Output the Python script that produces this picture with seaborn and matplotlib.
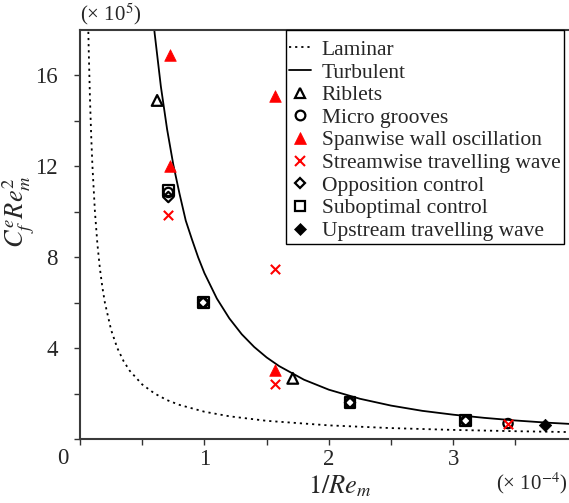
import matplotlib
matplotlib.use("Agg")
import matplotlib.pyplot as plt
from matplotlib.lines import Line2D
import seaborn as sns

# ---- data (x in units of 1e-4, y in units of 1e5) ----
laminar_x = [0.065, 0.07, 0.08, 0.09, 0.10, 0.12, 0.14, 0.16, 0.18, 0.20, 0.25, 0.30,
             0.35, 0.40, 0.50, 0.60, 0.70, 0.80, 1.00, 1.20, 1.50, 2.00, 2.50, 3.00,
             3.50, 3.95]
laminar_y = [18.46, 17.14, 15.0, 13.33, 12.0, 10.0, 8.57, 7.5, 6.67, 6.0, 4.8, 4.0,
             3.43, 3.0, 2.4, 2.0, 1.71, 1.5, 1.2, 1.0, 0.8, 0.6, 0.48, 0.40,
             0.343, 0.304]
turbulent_x = [0.59, 0.60, 0.65, 0.70, 0.75, 0.80, 0.85, 0.90, 0.95, 1.0, 1.1, 1.2, 1.3,
               1.4, 1.5, 1.6, 1.8, 2.0, 2.25, 2.5, 2.75, 3.0, 3.25, 3.5, 3.75, 3.95]
turbulent_y = [18.38, 17.85, 15.51, 13.63, 12.07, 10.79, 9.61, 8.78, 7.99, 7.30, 6.18,
               5.31, 4.61, 4.05, 3.59, 3.21, 2.61, 2.17, 1.77, 1.47, 1.24, 1.07, 0.93,
               0.815, 0.72, 0.66]

riblets_x = [0.62, 1.71]
riblets_y = [14.9, 2.67]
grooves_x = [0.71, 0.99, 2.17, 3.10, 3.44]
grooves_y = [10.85, 6.0, 1.6, 0.8, 0.68]
spanwise_x = [0.72, 0.72, 1.57, 1.57]
spanwise_y = [16.9, 12.0, 15.1, 3.05]
streamwise_x = [0.71, 1.57, 1.57, 3.44]
streamwise_y = [9.85, 7.5, 2.42, 0.67]
opposition_x = [0.71, 0.99, 2.17, 3.10]
opposition_y = [10.65, 6.0, 1.6, 0.8]
suboptimal_x = [0.71, 0.99, 2.17, 3.10]
suboptimal_y = [10.95, 6.02, 1.6, 0.8]
upstream_x = [3.74]
upstream_y = [0.6]

legend_labels = ["Laminar", "Turbulent", "Riblets", "Micro grooves",
                 "Spanwise wall oscillation", "Streamwise travelling wave",
                 "Opposition control", "Suboptimal control", "Upstream travelling wave"]

sns.set_style("ticks")
plt.rcParams["font.family"] = ["Liberation Serif", "DejaVu Serif"]
plt.rcParams["mathtext.fontset"] = "stix"

fig = plt.figure(figsize=(5.69, 5.03), dpi=100)
ax = fig.add_axes([80 / 569, 64 / 503, 489 / 569, 409 / 503])

sns.lineplot(x=laminar_x, y=laminar_y, ax=ax, color="k", linestyle=(0, (1.2, 2.2)), lw=1.3)
sns.lineplot(x=turbulent_x, y=turbulent_y, ax=ax, color="k", lw=1.3)

ec_lw = 1.6
sns.scatterplot(x=suboptimal_x, y=suboptimal_y, ax=ax, marker="s", s=60,
                color="k", facecolor="none", edgecolor="k", linewidth=ec_lw, zorder=3)
sns.scatterplot(x=grooves_x, y=grooves_y, ax=ax, marker="o", s=45,
                color="k", facecolor="none", edgecolor="k", linewidth=ec_lw, zorder=3)
sns.scatterplot(x=opposition_x, y=opposition_y, ax=ax, marker="D", s=28,
                color="k", facecolor="none", edgecolor="k", linewidth=ec_lw, zorder=3)
sns.scatterplot(x=riblets_x, y=riblets_y, ax=ax, marker="^", s=60,
                color="k", facecolor="none", edgecolor="k", linewidth=ec_lw, zorder=3)
sns.scatterplot(x=spanwise_x, y=spanwise_y, ax=ax, marker="^", s=70,
                color="red", edgecolor="red", linewidth=0.5, zorder=3)
sns.scatterplot(x=streamwise_x, y=streamwise_y, ax=ax, marker="x", s=45,
                color="red", linewidth=1.5, zorder=4)
sns.scatterplot(x=upstream_x, y=upstream_y, ax=ax, marker="D", s=40,
                color="k", edgecolor="k", linewidth=0.5, zorder=3)

ax.set_xlim(0, 3.93)
ax.set_ylim(0, 18)
ax.set_xticks([0, 1, 2, 3])
ax.set_xticklabels(["", "1", "2", "3"])
ax.set_xticks([0.5, 1.5, 2.5, 3.5], minor=True)
ax.set_yticks([0, 4, 8, 12, 16])
ax.set_yticklabels(["", "4", "8", "12", "16"])
ax.set_yticks([2, 6, 10, 14], minor=True)
ax.tick_params(axis="both", which="both", direction="out", length=4, width=1,
               color="#333333", labelsize=16.5)
ax.tick_params(axis="x", pad=3)
ax.tick_params(axis="y", pad=12)
for side in ["left", "bottom", "top"]:
    ax.spines[side].set_color("#3a3a3a")
    ax.spines[side].set_linewidth(1.5)
ax.spines["right"].set_visible(False)

ax.set_xlabel(r"$1/Re_m$", fontsize=19)
ax.set_ylabel(r"$C_f^e Re_m^2$", fontsize=19)
ax.xaxis.set_label_coords(0.532, -0.085)
ax.yaxis.set_label_coords(-0.088, 0.555)

fig.text(63 / 569, 1 - 458 / 503, "0", fontsize=16.5, ha="center", va="center")
fig.text(80 / 569, 1 - 14 / 503, r"(× 10$^{5}$)", fontsize=15, ha="left", va="center")
fig.text(567 / 569, 1 - 483 / 503, r"(× 10$^{-4}$)", fontsize=15, ha="right", va="center")

handles = [
    Line2D([], [], color="k", linestyle=(0, (1.2, 2.2)), lw=1.3),
    Line2D([], [], color="k", lw=1.3),
    Line2D([], [], ls="", marker="^", ms=7, mfc="none", mec="k", mew=ec_lw),
    Line2D([], [], ls="", marker="o", ms=7, mfc="none", mec="k", mew=ec_lw),
    Line2D([], [], ls="", marker="^", ms=8, mfc="red", mec="red", mew=0.5),
    Line2D([], [], ls="", marker="x", ms=7, color="red", mew=1.5),
    Line2D([], [], ls="", marker="D", ms=5.5, mfc="none", mec="k", mew=ec_lw),
    Line2D([], [], ls="", marker="s", ms=7.5, mfc="none", mec="k", mew=ec_lw),
    Line2D([], [], ls="", marker="D", ms=6.5, mfc="k", mec="k", mew=0.5),
]
leg = ax.legend(handles, legend_labels, loc="upper left", bbox_to_anchor=(206 / 489, 1.0),
                fontsize=15.5, frameon=True, fancybox=False, edgecolor="k",
                borderaxespad=0, borderpad=0.15, labelspacing=0.12, handlelength=1.0,
                handletextpad=0.5, title=" ", title_fontsize=2.5)
leg.get_frame().set_linewidth(1.0)
leg.get_frame().set_alpha(1)

fig.savefig("out.png", dpi=100)
